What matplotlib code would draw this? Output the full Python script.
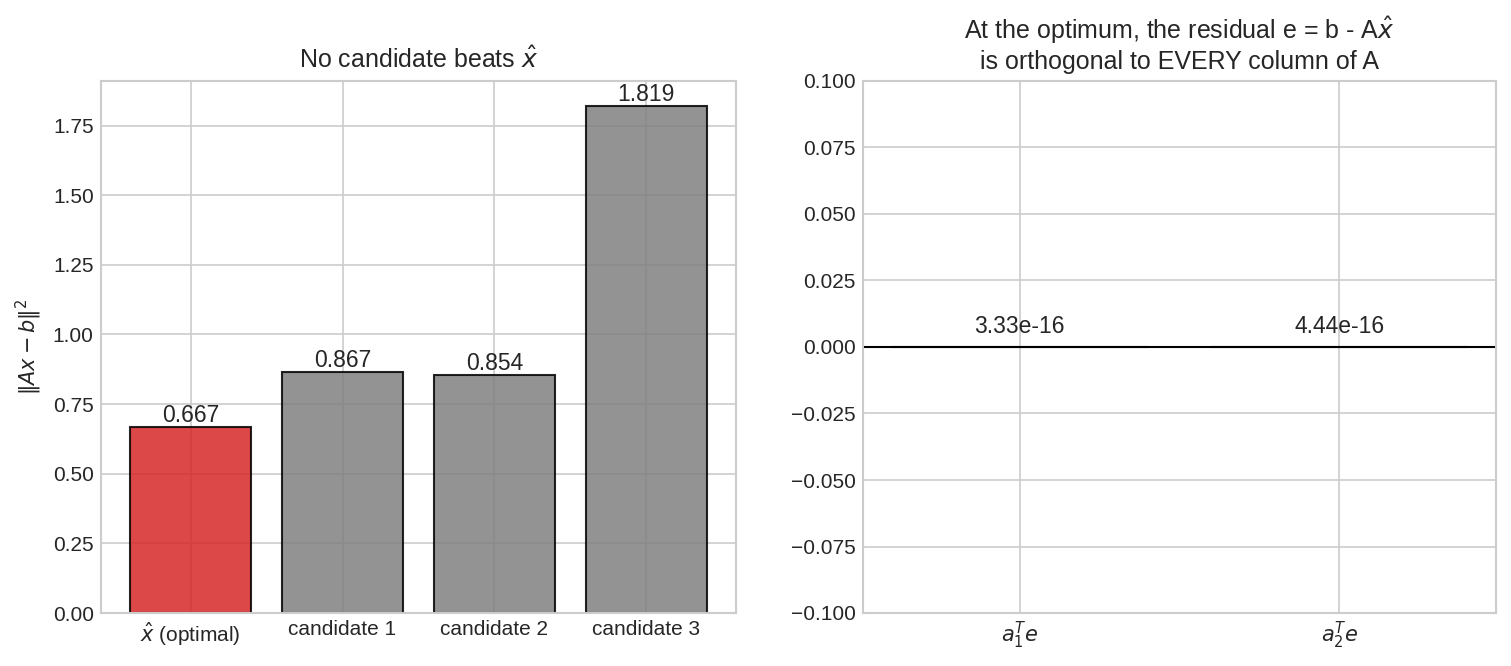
import matplotlib
matplotlib.use("Agg")
import matplotlib.pyplot as plt
import numpy as np

plt.style.use("seaborn-v0_8-whitegrid")

cand_labels = [r"$\hat{x}$ (optimal)", "candidate 1", "candidate 2", "candidate 3"]
cand_values = [0.667, 0.867, 0.854, 1.819]
cand_colors = ["#d62728", "gray", "gray", "gray"]

orth_labels = [r"$a_1^Te$", r"$a_2^Te$"]
orth_values = [3.33e-16, 4.44e-16]

fig = plt.figure(figsize=(1511/150, 666/150), dpi=150)
ax1 = fig.add_axes([101/1511, 1-613/666, 635/1511, 532/666])
ax2 = fig.add_axes([863/1511, 1-613/666, 633/1511, 532/666])

x = np.arange(len(cand_values))
ax1.bar(x, cand_values, color=cand_colors, alpha=0.85, edgecolor="black", linewidth=1.0)
for xi, v in zip(x, cand_values):
    ax1.text(xi, v, f"{v:.3f}", ha="center", va="bottom", fontsize=11)
ax1.set_xticks(x)
ax1.set_xticklabels(cand_labels)
ax1.set_ylabel(r"$\|Ax-b\|^2$")
ax1.set_title(r"No candidate beats $\hat{x}$", fontsize=12)

x2 = np.arange(len(orth_values))
ax2.bar(x2, orth_values, color="#1f77b4", alpha=0.85, edgecolor="black", linewidth=1.0)
ax2.axhline(0, color="black", linewidth=1.0)
for xi, v in zip(x2, orth_values):
    ax2.text(xi, 0.0035, f"{v:.2e}", ha="center", va="bottom", fontsize=11)
ax2.set_xticks(x2)
ax2.set_xticklabels(orth_labels)
ax2.set_ylim(-0.1, 0.1)
ax2.set_title("At the optimum, the residual e = b - A$\\hat{x}$\nis orthogonal to EVERY column of A", fontsize=12)

for ax in (ax1, ax2):
    for s in ax.spines.values():
        s.set_visible(True)
        s.set_color("#cccccc")
    ax.tick_params(labelsize=10)

fig.savefig("out.png", dpi=150)
